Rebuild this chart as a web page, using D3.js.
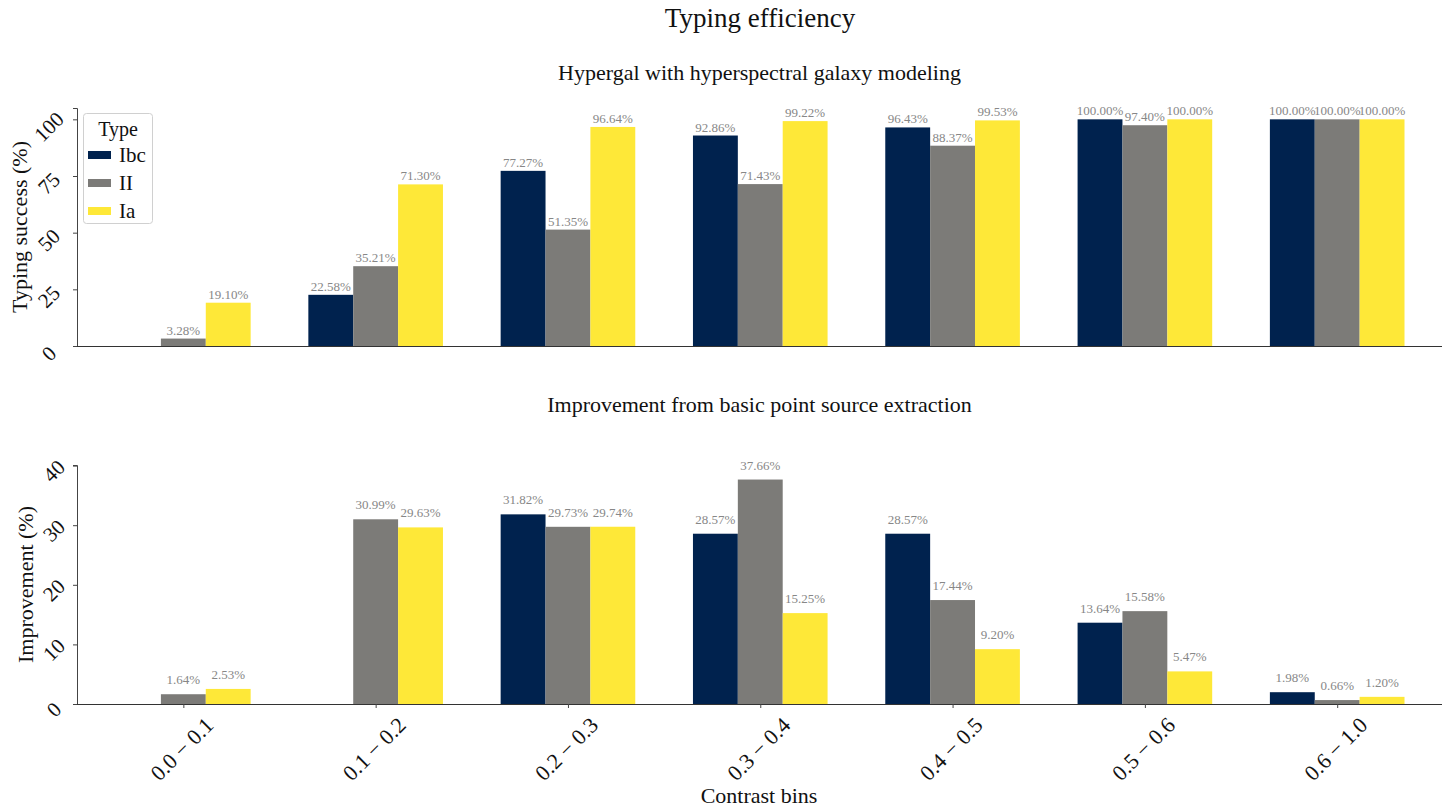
<!DOCTYPE html>
<html>
<head>
<meta charset="utf-8">
<script src="https://cdn.jsdelivr.net/npm/d3@7"></script>
<style>
  html, body { margin: 0; padding: 0; background: #fff; }
  svg text { font-family: "Liberation Serif", "DejaVu Serif", serif; }
</style>
</head>
<body>
<svg id="chart" width="1454" height="810"></svg>
<script>
// ---------- data ----------
const categories = ["0.0 \u2212 0.1", "0.1 \u2212 0.2", "0.2 \u2212 0.3", "0.3 \u2212 0.4", "0.4 \u2212 0.5", "0.5 \u2212 0.6", "0.6 \u2212 1.0"];
const seriesNames = ["Ibc", "II", "Ia"];
const seriesColors = ["#00224e", "#7c7b78", "#fee838"];

const successIbc = [null, 22.58, 77.27, 92.86, 96.43, 100.00, 100.00];
const successII  = [3.28, 35.21, 51.35, 71.43, 88.37, 97.40, 100.00];
const successIa  = [19.10, 71.30, 96.64, 99.22, 99.53, 100.00, 100.00];

const improvIbc = [null, null, 31.82, 28.57, 28.57, 13.64, 1.98];
const improvII  = [1.64, 30.99, 29.73, 37.66, 17.44, 15.58, 0.66];
const improvIa  = [2.53, 29.63, 29.74, 15.25, 9.20, 5.47, 1.20];

const successTicks = [0, 25, 50, 75, 100];
const improvTicks = [0, 10, 20, 30, 40];

const titleText = "Typing efficiency";
const topTitle = "Hypergal with hyperspectral galaxy modeling";
const bottomTitle = "Improvement from basic point source extraction";
const topYLabel = "Typing success (%)";
const bottomYLabel = "Improvement (%)";
const xLabel = "Contrast bins";
const legendTitle = "Type";

// ---------- layout ----------
const svg = d3.select("#chart");
const left = 77, right = 1442;
const groupWidth = 0.7;
const barW = groupWidth / 3;

const x = d3.scaleLinear().domain([-0.553, 6.545]).range([left, right]);

svg.append("text").attr("x", 760).attr("y", 27).attr("text-anchor", "middle")
  .attr("font-size", 27).attr("fill", "#111").text(titleText);

function panel(opts) {
  const y = d3.scaleLinear().domain(opts.domain).range([opts.bottom, opts.top]);
  const g = svg.append("g");
  const series = opts.series;

  // subplot title
  g.append("text").attr("x", (left + right) / 2).attr("y", opts.titleY)
    .attr("text-anchor", "middle").attr("font-size", 22).attr("fill", "#111").text(opts.title);

  // bars
  series.forEach((vals, si) => {
    const offset = (si - 1) * barW;
    const data = vals.map((v, i) => ({ v, i })).filter(d => d.v !== null);
    g.selectAll(null).data(data).enter().append("rect")
      .attr("x", d => x(d.i + offset - barW / 2))
      .attr("width", d => x(barW) - x(0))
      .attr("y", d => y(d.v))
      .attr("height", d => y(0) - y(d.v))
      .attr("fill", seriesColors[si]);
    g.selectAll(null).data(data).enter().append("text")
      .attr("x", d => x(d.i + offset))
      .attr("y", d => y(d.v) - opts.labelGap)
      .attr("text-anchor", "middle")
      .attr("font-size", 13)
      .attr("fill", "#878787")
      .text(d => d.v.toFixed(2) + "%");
  });

  // y axis
  const yAxis = d3.axisLeft(y).tickValues(opts.ticks).tickSize(4).tickFormat(d3.format("d"));
  const ya = g.append("g").attr("transform", `translate(${left},0)`).call(yAxis);
  ya.select(".domain").attr("stroke", "#444");
  ya.selectAll(".tick line").attr("stroke", "#444");
  ya.selectAll(".tick text")
    .attr("x", 0).attr("dy", null).attr("dx", null)
    .attr("text-anchor", "middle")
    .attr("dominant-baseline", "central")
    .attr("font-size", 21)
    .attr("font-family", "Liberation Serif")
    .attr("fill", "#111")
    .attr("transform", `translate(${-opts.tickLabelDx},${opts.tickLabelDy}) rotate(-45)`);

  // x axis baseline
  const xAxis = d3.axisBottom(x).tickValues(d3.range(categories.length))
    .tickSize(opts.showX ? 4 : 0).tickFormat(i => opts.showX ? categories[i] : "");
  const xa = g.append("g").attr("transform", `translate(0,${opts.bottom})`).call(xAxis);
  xa.select(".domain").attr("stroke", "#333").attr("d", `M${left},0.5H${right}`);
  xa.selectAll(".tick line").attr("stroke", "#444");
  if (opts.showX) {
    xa.selectAll(".tick text")
      .attr("y", 0).attr("dy", null)
      .attr("text-anchor", "middle")
      .attr("dominant-baseline", "central")
      .attr("font-size", 22)
      .attr("font-family", "Liberation Serif")
      .attr("fill", "#111")
      .attr("transform", "translate(-2,45) rotate(-45)");
  }

  // y label
  g.append("text")
    .attr("transform", `translate(${opts.yLabelX},${(opts.top + opts.bottom) / 2}) rotate(-90)`)
    .attr("text-anchor", "middle").attr("dominant-baseline", "central")
    .attr("font-size", 22).attr("fill", "#111").text(opts.yLabel);
  return y;
}

panel({
  series: [successIbc, successII, successIa],
  domain: [0, 105], top: 108, bottom: 346, ticks: successTicks,
  title: topTitle, titleY: 80, yLabel: topYLabel, yLabelX: 19,
  labelGap: 4, showX: false, tickLabelDx: 28, tickLabelDy: 7
});

panel({
  series: [improvIbc, improvII, improvIa],
  domain: [0, 40.1], top: 465, bottom: 704, ticks: improvTicks,
  title: bottomTitle, titleY: 412, yLabel: bottomYLabel, yLabelX: 25,
  labelGap: 10, showX: true, tickLabelDx: 23, tickLabelDy: 5
});

svg.append("text").attr("x", 759).attr("y", 803).attr("text-anchor", "middle")
  .attr("font-size", 22).attr("fill", "#111").text(xLabel);

// legend
const lg = svg.append("g").attr("transform", "translate(83,113)");
lg.append("rect").attr("x", 0.5).attr("y", 0.5).attr("width", 69).attr("height", 110)
  .attr("rx", 3).attr("fill", "#fff").attr("fill-opacity", 0.85).attr("stroke", "#d0d0d0");
lg.append("text").attr("x", 35).attr("y", 16).attr("text-anchor", "middle")
  .attr("dominant-baseline", "central").attr("font-size", 20).attr("fill", "#111").text(legendTitle);
seriesNames.forEach((name, i) => {
  const cy = 42 + i * 28;
  lg.append("rect").attr("x", 5).attr("y", cy - 4).attr("width", 23).attr("height", 8).attr("fill", seriesColors[i]);
  lg.append("text").attr("x", 36).attr("y", cy).attr("dominant-baseline", "central")
    .attr("font-size", 21).attr("fill", "#111").text(name);
});
</script>
</body>
</html>
